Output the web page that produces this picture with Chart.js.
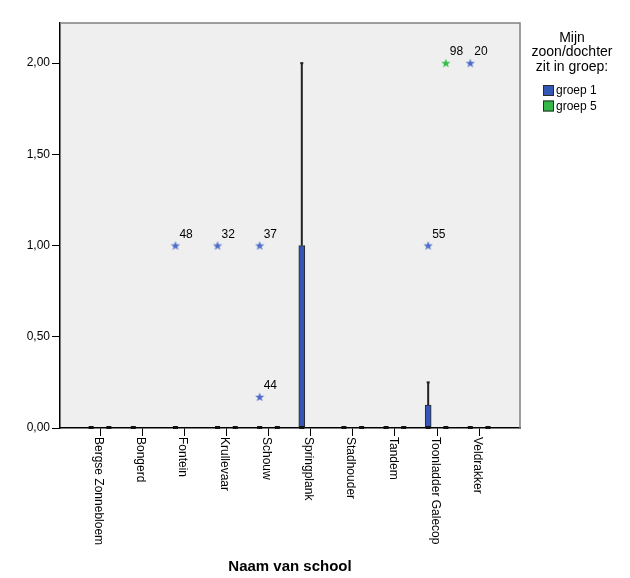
<!DOCTYPE html>
<html>
<head>
<meta charset="utf-8">
<script src="https://cdn.jsdelivr.net/npm/chart.js@4/dist/chart.umd.min.js"></script>
<style>
html,body{margin:0;padding:0;background:#fff;}
#wrap{width:630px;height:578px;}
</style>
</head>
<body>
<div id="wrap"><canvas id="c" width="630" height="578"></canvas></div>
<script>
// ---- data ----
const schools = ['Bergse Zonnebloem','Bongerd','Fontein','Krullevaar','Schouw','Springplank','Stadhouder','Tandem','Toonladder Galecop','Veldrakker'];
const yTicks = [0, 0.5, 1, 1.5, 2];
const groupNames = ['groep 1', 'groep 5'];
// group 1 box statistics (null = no data)
const g1Low    = [0, 0, 0, 0, 0, 0, 0, 0, 0, 0];
const g1Q1     = [0, 0, 0, 0, 0, 0, 0, 0, 0, 0];
const g1Median = [0, 0, 0, 0, 0, 0, 0, 0, 0, 0];
const g1Q3     = [0, 0, 0, 0, 0, 1, 0, 0, 0.125, 0];
const g1High   = [0, 0, 0, 0, 0, 2, 0, 0, 0.25, 0];
// group 5 box statistics
const g5Low    = [0, null, null, 0, 0, null, 0, 0, 0, 0];
const g5Q1     = [0, null, null, 0, 0, null, 0, 0, 0, 0];
const g5Median = [0, null, null, 0, 0, null, 0, 0, 0, 0];
const g5Q3     = [0, null, null, 0, 0, null, 0, 0, 0, 0];
const g5High   = [0, null, null, 0, 0, null, 0, 0, 0, 0];
// extreme values: school index, value, case label
const g1OutSchool = [2, 3, 4, 4, 8, 9];
const g1OutValue  = [1, 1, 1, 0.17, 1, 2];
const g1OutLabel  = ['48', '32', '37', '44', '55', '20'];
const g5OutSchool = [8];
const g5OutValue  = [2];
const g5OutLabel  = ['98'];

// ---- styling ----
const FONT = "'Liberation Sans', Arial, sans-serif";
const blue = '#3457b5';
const green = '#35b84a';
const blueStar = '#4e6cc9';
const greenStar = '#33bf45';
const offs = [-0.21, 0.21];

function makeStar(color) {
  const c = document.createElement('canvas');
  c.width = 10; c.height = 10;
  const g = c.getContext('2d');
  g.fillStyle = color;
  g.beginPath();
  for (let k = 0; k < 10; k++) {
    const r = k % 2 === 0 ? 4.8 : 2.0;
    const a = -Math.PI / 2 + k * Math.PI / 5;
    const px = 5 + r * Math.cos(a), py = 5.3 + r * Math.sin(a);
    if (k === 0) g.moveTo(px, py); else g.lineTo(px, py);
  }
  g.closePath();
  g.fill();
  return c;
}

const groups = [
  {low: g1Low, q1: g1Q1, med: g1Median, q3: g1Q3, high: g1High, off: offs[0], color: blue,
   outS: g1OutSchool, outV: g1OutValue, outL: g1OutLabel, star: blueStar},
  {low: g5Low, q1: g5Q1, med: g5Median, q3: g5Q3, high: g5High, off: offs[1], color: green,
   outS: g5OutSchool, outV: g5OutValue, outL: g5OutLabel, star: greenStar}
];

const datasets = [];
groups.forEach((g, gi) => {
  const boxData = [];
  schools.forEach((s, i) => {
    if (g.q3[i] !== null && g.q3[i] > g.q1[i]) boxData.push({x: i + g.off, y: [g.q1[i], g.q3[i]]});
  });
  datasets.push({
    type: 'bar', label: groupNames[gi], data: boxData,
    backgroundColor: g.color, borderColor: '#2a2a2a', borderWidth: 1, borderSkipped: false,
    barThickness: 6, grouped: false, order: 2
  });
});
groups.forEach((g, gi) => {
  datasets.push({
    type: 'scatter', label: groupNames[gi] + ' extremen',
    data: g.outS.map((s, k) => ({x: s + g.off, y: g.outV[k]})),
    pointStyle: makeStar(g.star), pointRadius: 5, outLabels: g.outL, order: 0
  });
});

const bgPlugin = {
  id: 'bg',
  beforeDraw(chart) {
    const {ctx, chartArea: a} = chart;
    ctx.save();
    ctx.fillStyle = '#efefef';
    ctx.fillRect(a.left, a.top, a.right - a.left, a.bottom - a.top);
    ctx.restore();
  },
  afterDraw(chart) {
    const {ctx, chartArea: a} = chart;
    ctx.save();
    ctx.strokeStyle = '#808080';
    ctx.lineWidth = 1.5;
    ctx.beginPath();
    ctx.moveTo(a.left, a.top); ctx.lineTo(a.right, a.top); ctx.lineTo(a.right, a.bottom);
    ctx.stroke();
    ctx.restore();
  }
};

const boxPlugin = {
  id: 'boxparts',
  afterDatasetsDraw(chart) {
    const {ctx} = chart;
    const xs = chart.scales.x, ys = chart.scales.y;
    ctx.save();
    groups.forEach(g => {
      schools.forEach((s, i) => {
        if (g.q3[i] === null) return;
        const x = xs.getPixelForValue(i + g.off);
        ctx.strokeStyle = '#222';
        ctx.lineWidth = 2;
        if (g.high[i] > g.q3[i]) {
          ctx.beginPath();
          ctx.moveTo(x, ys.getPixelForValue(g.q3[i]));
          ctx.lineTo(x, ys.getPixelForValue(g.high[i]));
          ctx.stroke();
          ctx.beginPath();
          ctx.moveTo(x - 1.5, ys.getPixelForValue(g.high[i]));
          ctx.lineTo(x + 1.5, ys.getPixelForValue(g.high[i]));
          ctx.stroke();
        }
        if (g.low[i] < g.q1[i]) {
          ctx.beginPath();
          ctx.moveTo(x, ys.getPixelForValue(g.q1[i]));
          ctx.lineTo(x, ys.getPixelForValue(g.low[i]));
          ctx.stroke();
        }
      });
    });
    // extreme value labels
    ctx.fillStyle = '#000';
    ctx.font = '12px ' + FONT;
    ctx.textAlign = 'left';
    ctx.textBaseline = 'middle';
    chart.data.datasets.forEach((ds, di) => {
      if (!ds.outLabels) return;
      const meta = chart.getDatasetMeta(di);
      meta.data.forEach((pt, k) => {
        ctx.fillText(ds.outLabels[k], pt.x + 4, pt.y - 11);
      });
    });
    ctx.restore();
  },
  afterDraw(chart) {
    const {ctx, chartArea: a} = chart;
    const xs = chart.scales.x, ys = chart.scales.y;
    ctx.save();
    // medians (drawn on top of the axis line)
    ctx.fillStyle = '#111';
    groups.forEach(g => {
      schools.forEach((s, i) => {
        if (g.med[i] === null) return;
        const x = xs.getPixelForValue(i + g.off);
        const my = ys.getPixelForValue(g.med[i]);
        ctx.fillRect(x - 2.5, my - 2, 5, 3);
      });
    });
    // rotated category labels
    ctx.fillStyle = '#000';
    ctx.font = '12px ' + FONT;
    ctx.textAlign = 'left';
    ctx.textBaseline = 'middle';
    schools.forEach((s, i) => {
      const x = xs.getPixelForValue(i);
      ctx.save();
      ctx.translate(x, a.bottom + 9);
      ctx.rotate(Math.PI / 2);
      ctx.fillText(s, 0, 2);
      ctx.restore();
    });
    // legend
    const lx = 572;
    ctx.textAlign = 'center';
    ctx.font = '14px ' + FONT;
    ['Mijn', 'zoon/dochter', 'zit in groep:'].forEach((t, k) => ctx.fillText(t, lx, 38 + k * 14.5));
    ctx.textAlign = 'left';
    ctx.font = '12px ' + FONT;
    groups.forEach((g, gi) => {
      const y = 85 + gi * 15.5;
      ctx.fillStyle = g.color;
      ctx.fillRect(543, y, 11, 11);
      ctx.strokeStyle = '#2a2a2a';
      ctx.lineWidth = 1;
      ctx.strokeRect(543.5, y + 0.5, 10, 10);
      ctx.fillStyle = '#000';
      ctx.fillText(groupNames[gi], 556, y + 6);
    });
    ctx.restore();
  }
};

new Chart(document.getElementById('c'), {
  type: 'bar',
  data: {datasets},
  options: {
    responsive: false,
    devicePixelRatio: 1,
    animation: false,
    layout: {padding: {left: 0, top: 23, right: 110, bottom: 0}},
    plugins: {legend: {display: false}, tooltip: {enabled: false}},
    scales: {
      x: {
        type: 'linear', min: -0.95, max: 9.97, offset: false,
        afterBuildTicks: sc => { sc.ticks = schools.map((s, i) => ({value: i})); },
        afterFit: sc => { sc.height = 150; },
        ticks: {display: false},
        grid: {offset: false, drawOnChartArea: false, drawTicks: true, tickLength: 8, color: '#000', lineWidth: 1},
        border: {color: '#000', width: 1.5},
        title: {display: true, text: 'Naam van school', color: '#000',
                font: {family: FONT, size: 15, weight: 'bold'}, padding: {top: 0, bottom: 2}}
      },
      y: {
        type: 'linear', min: 0, max: 2.22,
        afterBuildTicks: sc => { sc.ticks = yTicks.map(v => ({value: v})); },
        afterFit: sc => { sc.width = 60; },
        ticks: {
          color: '#000', font: {family: FONT, size: 12}, padding: 2,
          callback: v => v.toFixed(2).replace('.', ',')
        },
        grid: {offset: false, drawOnChartArea: false, drawTicks: true, tickLength: 8, color: '#000', lineWidth: 1},
        border: {color: '#000', width: 1.5}
      }
    }
  },
  plugins: [bgPlugin, boxPlugin]
});
</script>
</body>
</html>
